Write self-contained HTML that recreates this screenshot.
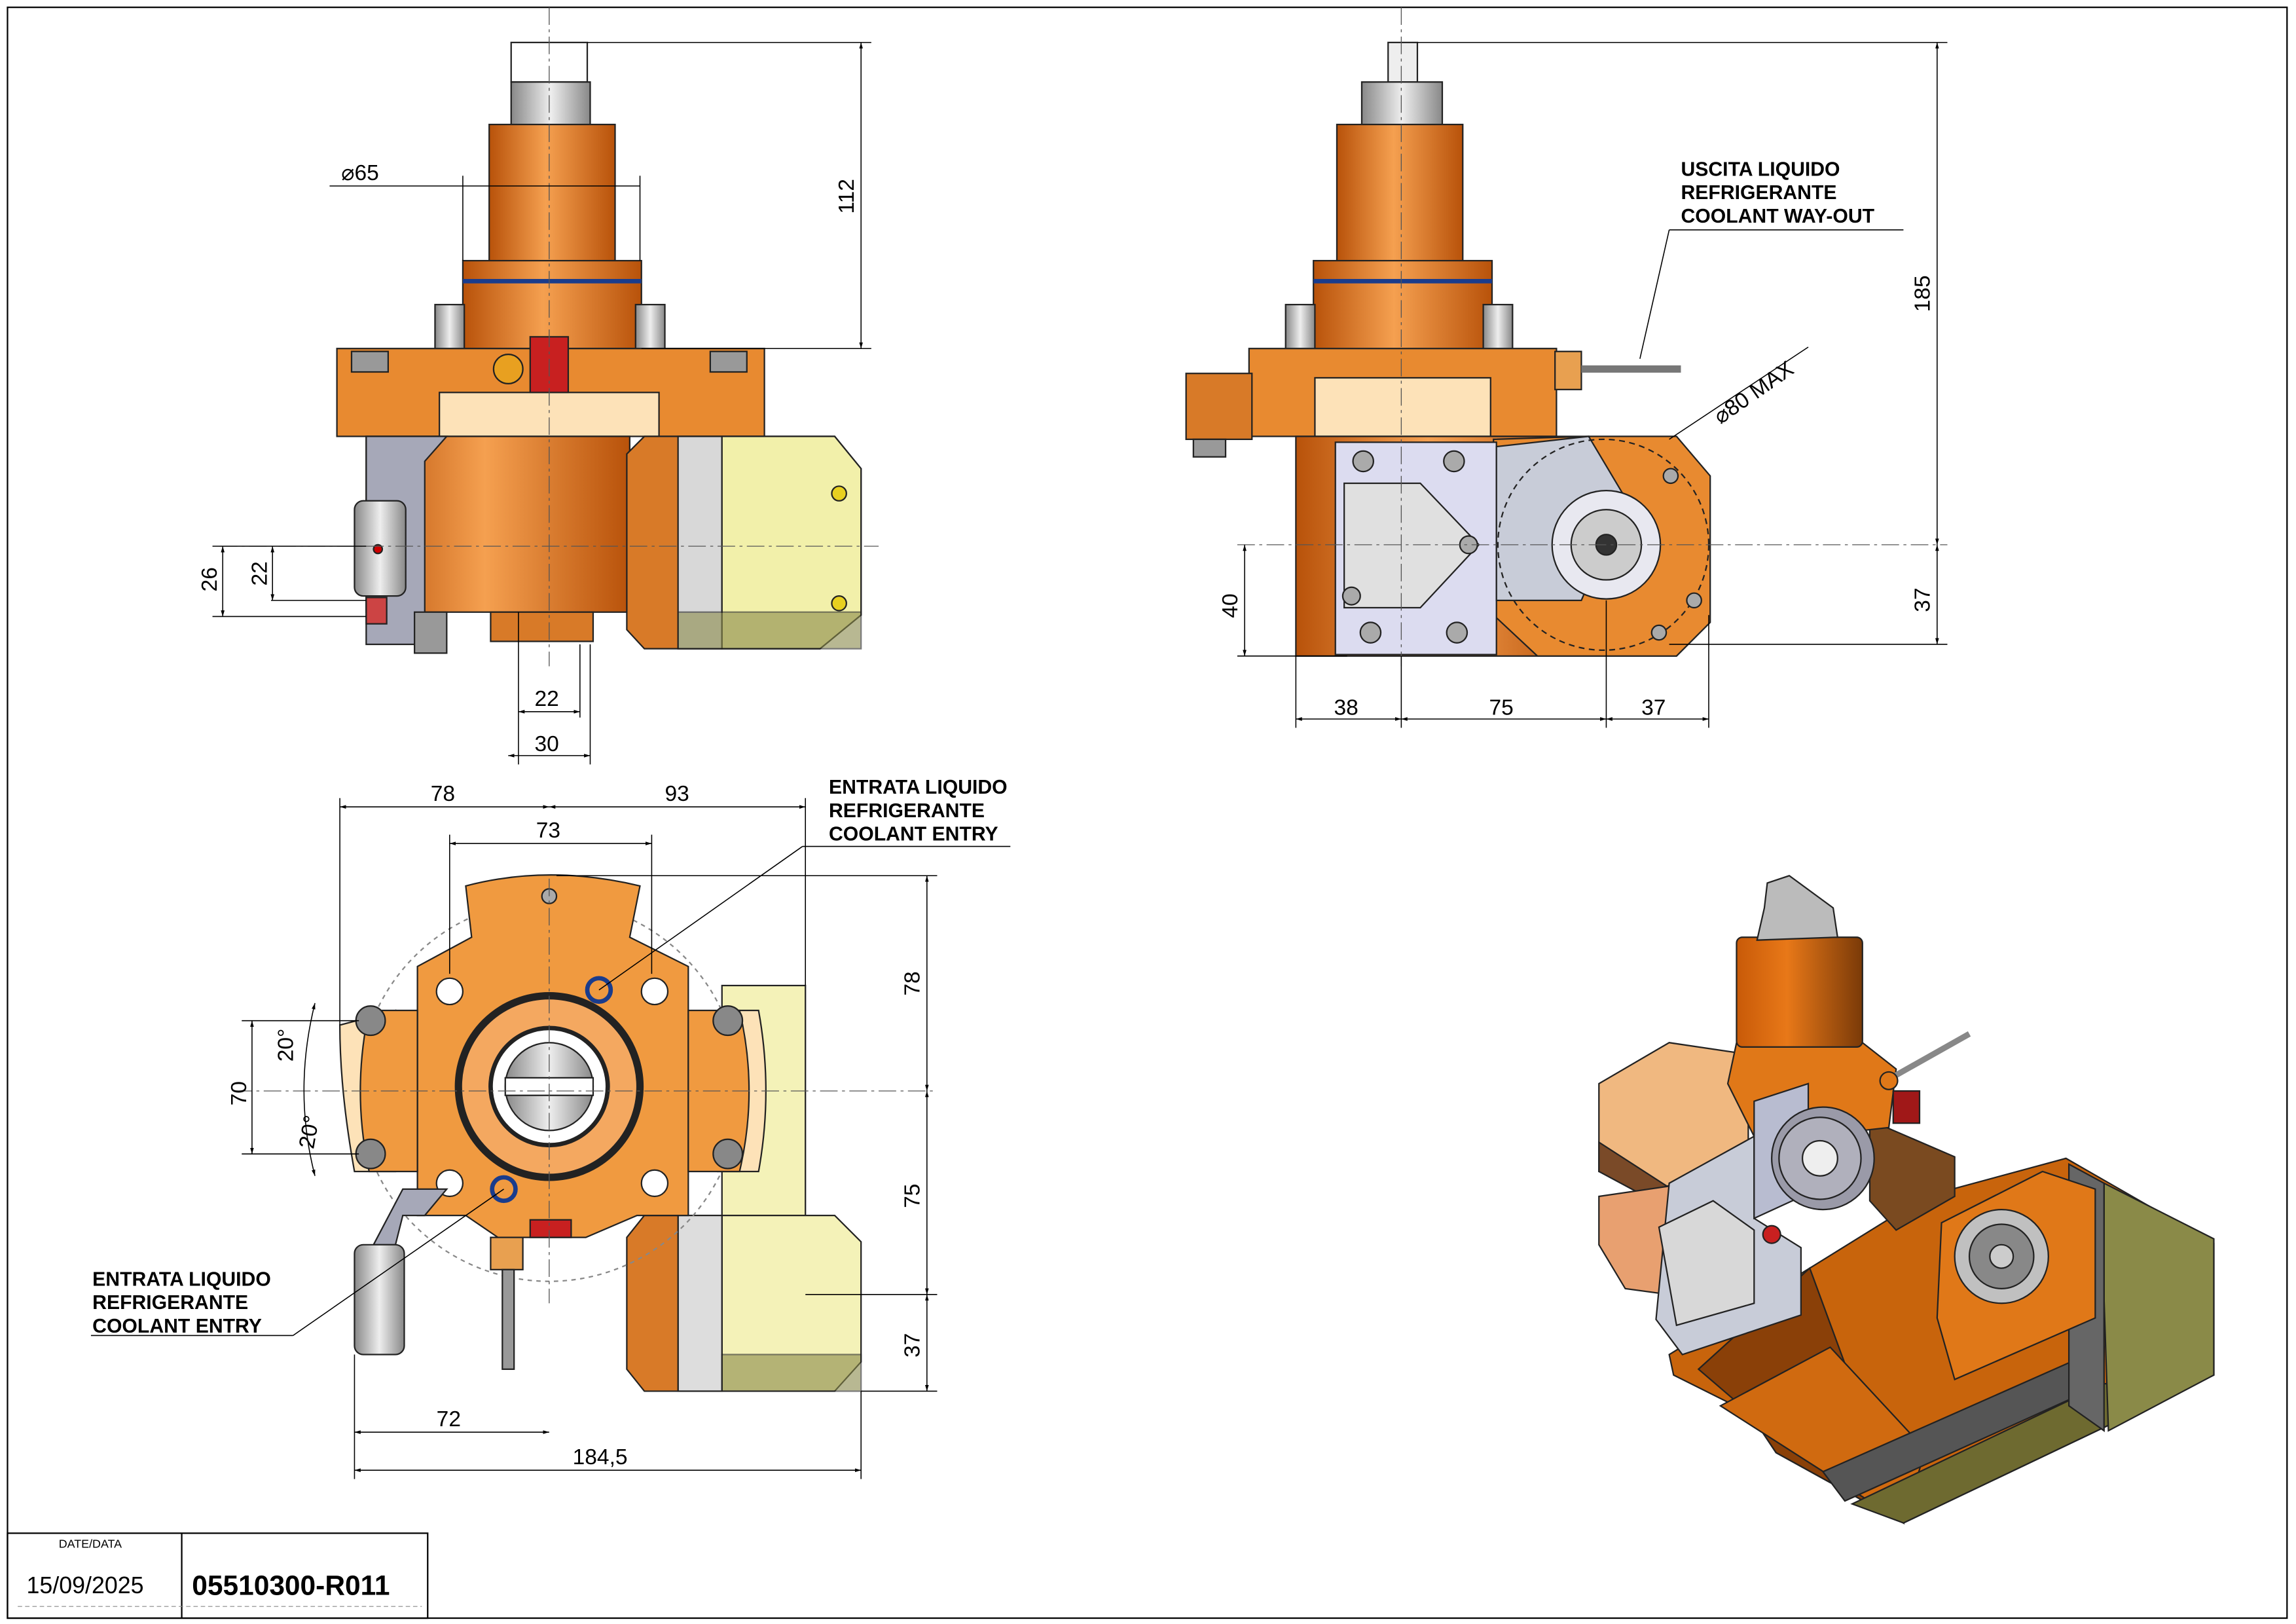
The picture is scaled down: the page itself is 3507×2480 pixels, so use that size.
<!DOCTYPE html>
<html><head><meta charset="utf-8"><style>
html,body{margin:0;padding:0;background:#fff}
svg{display:block}
text{font-family:"Liberation Sans",sans-serif}
</style></head><body>
<svg width="3507" height="2480" viewBox="0 0 1568 1109" xmlns="http://www.w3.org/2000/svg">
<defs>
<linearGradient id="cyl" x1="0" x2="1"><stop offset="0" stop-color="#b8520a"/><stop offset=".45" stop-color="#f5a050"/><stop offset="1" stop-color="#b8520a"/></linearGradient>
<linearGradient id="cyl2" x1="0" x2="1"><stop offset="0" stop-color="#c85a08"/><stop offset=".4" stop-color="#e87818"/><stop offset="1" stop-color="#7a3a08"/></linearGradient>
<linearGradient id="gry" x1="0" x2="1"><stop offset="0" stop-color="#888"/><stop offset=".5" stop-color="#eee"/><stop offset="1" stop-color="#888"/></linearGradient>
<marker id="a" viewBox="0 0 10 10" refX="10" refY="5" markerWidth="6" markerHeight="6" orient="auto-start-reverse"><path d="M0,2L10,5L0,8z" fill="#000"/></marker>
</defs>
<rect x="0" y="0" width="1568" height="1109" fill="#fff"/>
<rect x="5" y="5" width="1557" height="1100" fill="none" stroke="#000" stroke-width="1"/>
<rect x="5" y="1047" width="287" height="58" fill="none" stroke="#000"/>
<line x1="124" y1="1047" x2="124" y2="1105" stroke="#000"/>
<text x="40" y="1057" font-size="8">DATE/DATA</text>
<text x="18" y="1088" font-size="16">15/09/2025</text>
<text x="131" y="1089" font-size="19" font-weight="bold">05510300-R011</text>
<line x1="12" y1="1097" x2="288" y2="1097" stroke="#888" stroke-dasharray="3,2" stroke-width=".5"/>

<g stroke="#222" stroke-width="1">
<!-- ===== VIEW 1 ===== -->
<rect x="349" y="29" width="52" height="27" fill="#fff"/>
<rect x="349" y="56" width="54" height="30" fill="url(#gry)"/>
<rect x="334" y="85" width="86" height="95" fill="url(#cyl)"/>
<rect x="316" y="178" width="122" height="60" fill="url(#cyl)"/>
<line x1="316" y1="192" x2="438" y2="192" stroke="#1a3c8c" stroke-width="3"/>
<rect x="297" y="208" width="20" height="55" fill="url(#gry)"/>
<rect x="434" y="208" width="20" height="55" fill="url(#gry)"/>
<rect x="230" y="238" width="292" height="60" fill="#e88a30"/>
<rect x="300" y="268" width="150" height="30" fill="#fde2b8"/>
<rect x="240" y="240" width="25" height="14" fill="#999"/>
<rect x="485" y="240" width="25" height="14" fill="#999"/>
<rect x="362" y="230" width="26" height="38" fill="#c82020"/>
<circle cx="347" cy="252" r="10" fill="#e8a020"/>
<rect x="250" y="298" width="180" height="120" fill="url(#cyl)"/>
<rect x="335" y="418" width="70" height="20" fill="#d87a28"/>
<polygon points="250,298 305,298 290,315 290,440 250,440" fill="#a6a8b8"/>
<rect x="283" y="418" width="22" height="28" fill="#999"/>
<rect x="242" y="342" width="35" height="65" rx="6" fill="url(#gry)"/>
<circle cx="258" cy="375" r="3" fill="#c00"/>
<rect x="250" y="408" width="14" height="18" fill="#c44"/>
<polygon points="440,298 570,298 588,320 588,420 560,443 440,443 428,430 428,310" fill="#d87a28"/>
<rect x="463" y="298" width="30" height="145" fill="#d8d8d8"/>
<polygon points="493,298 570,298 588,320 588,420 560,443 493,443" fill="#f2f0aa"/>
<rect x="463" y="418" width="125" height="25" fill="#8a8a4a" opacity=".6"/>
<circle cx="573" cy="337" r="5" fill="#e8d020"/><circle cx="573" cy="412" r="5" fill="#e8d020"/>

<!-- ===== VIEW 2 ===== -->
<rect x="948" y="29" width="20" height="27" fill="#eee"/>
<rect x="930" y="56" width="55" height="30" fill="url(#gry)"/>
<rect x="913" y="85" width="86" height="95" fill="url(#cyl)"/>
<rect x="897" y="178" width="122" height="62" fill="url(#cyl)"/>
<line x1="897" y1="192" x2="1019" y2="192" stroke="#1a3c8c" stroke-width="3"/>
<rect x="878" y="208" width="20" height="55" fill="url(#gry)"/>
<rect x="1013" y="208" width="20" height="55" fill="url(#gry)"/>
<rect x="853" y="238" width="210" height="60" fill="#e88a30"/>
<rect x="898" y="258" width="120" height="40" fill="#fde2b8"/>
<rect x="810" y="255" width="45" height="45" fill="#d87a28"/>
<rect x="815" y="300" width="22" height="12" fill="#999"/>
<rect x="1062" y="240" width="18" height="26" fill="#e8a050"/>
<line x1="1080" y1="252" x2="1148" y2="252" stroke="#777" stroke-width="5"/>
<rect x="885" y="298" width="200" height="150" fill="url(#cyl)"/>
<polygon points="1085,298 1145,298 1168,325 1168,425 1145,448 1050,448 1020,420 1020,300" fill="#e88a30"/>
<rect x="912" y="302" width="110" height="145" fill="#dcdcf0"/>
<polygon points="918,330 970,330 1010,372 970,415 918,415" fill="#e0e0e0"/>
<polygon points="1022,305 1085,298 1110,340 1080,410 1022,410" fill="#c8ccd8"/>
<circle cx="1095" cy="372" r="72" fill="none" stroke-dasharray="4,3"/>
<circle cx="1097" cy="372" r="37" fill="#e8e8f0"/>
<circle cx="1097" cy="372" r="24" fill="#ccc"/>
<circle cx="1097" cy="372" r="7" fill="#333"/>
<g fill="#aaa"><circle cx="931" cy="315" r="7"/><circle cx="993" cy="315" r="7"/><circle cx="923" cy="407" r="6"/><circle cx="1003" cy="372" r="6"/><circle cx="936" cy="432" r="7"/><circle cx="995" cy="432" r="7"/><circle cx="1141" cy="325" r="5"/><circle cx="1157" cy="410" r="5"/><circle cx="1133" cy="432" r="5"/></g>

<!-- ===== VIEW 3 ===== -->
<rect x="493" y="673" width="57" height="157" fill="#f4f2b8"/>
<polygon points="493,830 570,830 588,848 588,930 570,950 493,950" fill="#f4f2b8"/>
<rect x="463" y="830" width="30" height="120" fill="#ddd"/>
<polygon points="440,830 463,830 463,950 440,950 428,935 428,845" fill="#d87a28"/>
<rect x="493" y="925" width="95" height="25" fill="#8a8a4a" opacity=".6"/>
<circle cx="375" cy="745" r="130" fill="none" stroke-dasharray="3,3" stroke="#888"/>
<path d="M232,700 Q232,745 242,800 L270,800 L270,690 Z" fill="#fde2b8"/>
<path d="M518,690 Q528,745 518,800 L490,800 L490,690 Z" fill="#fde2b8"/>
<path d="M318,605 Q375,590 437,605 L430,640 L470,660 L470,830 L435,830 L400,845 L340,845 L318,830 L285,830 L285,660 L322,640 Z" fill="#f09a40"/>
<path d="M252,690 L285,690 L285,800 L252,800 Q240,745 252,690Z" fill="#f09a40"/>
<path d="M470,690 L505,690 Q518,745 505,800 L470,800Z" fill="#f09a40"/>
<circle cx="375" cy="742" r="62" fill="#f4a860" stroke-width="5"/>
<circle cx="375" cy="742" r="40" fill="#fff" stroke-width="3"/>
<circle cx="375" cy="742" r="30" fill="url(#gry)"/>
<rect x="345" y="736" width="60" height="12" fill="#fff"/>
<g fill="#fff"><circle cx="307" cy="677" r="9"/><circle cx="447" cy="677" r="9"/><circle cx="307" cy="808" r="9"/><circle cx="447" cy="808" r="9"/></g>
<g fill="#888"><circle cx="253" cy="697" r="10"/><circle cx="497" cy="697" r="10"/><circle cx="253" cy="788" r="10"/><circle cx="497" cy="788" r="10"/></g>
<circle cx="375" cy="612" r="5" fill="#aaa"/>
<circle cx="409" cy="676" r="8" fill="none" stroke="#1a3c8c" stroke-width="3"/>
<circle cx="344" cy="812" r="8" fill="none" stroke="#1a3c8c" stroke-width="3"/>
<rect x="362" y="833" width="28" height="12" fill="#c82020"/>
<polygon points="275,812 305,812 290,830 275,830 270,850 255,850" fill="#a6a8b8"/>
<rect x="242" y="850" width="34" height="75" rx="6" fill="url(#gry)"/>
<rect x="335" y="845" width="22" height="22" fill="#e8a050"/>
<rect x="343" y="867" width="8" height="68" fill="#999"/>

<!-- ===== ISO ===== -->
<polygon points="1140,925 1236,866 1315,817 1411,791 1512,849 1512,939 1300,1040 1213,992 1195,965 1143,939" fill="#c8640c"/>
<polygon points="1236,866 1300,1040 1213,992 1195,965 1160,935" fill="#8a4008"/>
<polygon points="1175,960 1250,920 1315,990 1300,1040" fill="#d06a10"/>
<polygon points="1245,1005 1437,920 1437,945 1260,1025" fill="#555"/>
<polygon points="1265,1027 1437,945 1512,939 1300,1040" fill="#6e6a30"/>
<polygon points="1437,808 1512,846 1512,939 1440,977 1437,887" fill="#8a8a48"/>
<polygon points="1413,795 1437,808 1437,977 1413,960" fill="#666"/>
<polygon points="1326,835 1395,800 1431,812 1431,900 1335,942 1323,900" fill="#e07818"/>
<circle cx="1367" cy="858" r="32" fill="#c0c0c0"/>
<circle cx="1367" cy="858" r="22" fill="#888"/>
<circle cx="1367" cy="858" r="8" fill="#ccc"/>
<polygon points="1277,765 1335,790 1335,817 1295,840 1277,820" fill="#7a4a20"/>
<polygon points="1092,740 1140,712 1194,720 1194,780 1140,811 1092,800" fill="#f0b880"/>
<polygon points="1092,780 1140,811 1194,780 1194,795 1120,815 1092,800" fill="#7a4a28"/>
<polygon points="1092,817 1140,810 1140,884 1110,880 1092,850" fill="#e8a070"/>
<polygon points="1186,712 1272,712 1295,730 1290,770 1200,780 1180,740" fill="#e07818"/>
<rect x="1186" y="640" width="86" height="75" rx="4" fill="url(#cyl2)"/>
<polygon points="1207,603 1222,598 1252,620 1255,640 1200,642 1205,620" fill="#bbb"/>
<line x1="1290" y1="737" x2="1345" y2="706" stroke="#888" stroke-width="4"/>
<circle cx="1290" cy="738" r="6" fill="#e07818"/>
<rect x="1293" y="745" width="18" height="22" fill="#a01818"/>
<polygon points="1140,808 1198,776 1198,832 1230,852 1230,898 1149,925 1131,901" fill="#c8ccd8"/>
<polygon points="1133,838 1170,820 1198,840 1198,890 1145,905" fill="#d8d8d8"/>
<polygon points="1198,752 1235,740 1235,815 1198,832" fill="#b8bcd0"/>
<circle cx="1245" cy="791" r="35" fill="#9a9aa8"/>
<circle cx="1243" cy="791" r="28" fill="#b0b0bc"/>
<circle cx="1243" cy="791" r="12" fill="#eee"/>
<circle cx="1210" cy="843" r="6" fill="#c82020"/>
</g>

<!-- centre lines -->
<g stroke="#555" stroke-width=".6" stroke-dasharray="12,3,2,3" fill="none">
<line x1="375" y1="5" x2="375" y2="455"/><line x1="150" y1="373" x2="600" y2="373"/>
<line x1="957" y1="5" x2="957" y2="455"/><line x1="845" y1="372" x2="1330" y2="372"/>
<line x1="375" y1="600" x2="375" y2="890"/><line x1="160" y1="745" x2="640" y2="745"/>
</g>

<g stroke="#000" stroke-width=".7" fill="none">
<line x1="401" y1="29" x2="595" y2="29"/><line x1="438" y1="238" x2="595" y2="238"/>
<line x1="588" y1="29" x2="588" y2="238" marker-start="url(#a)" marker-end="url(#a)"/>
<line x1="225" y1="127" x2="437" y2="127"/><line x1="316" y1="120" x2="316" y2="178"/><line x1="437" y1="120" x2="437" y2="178"/>
<line x1="145" y1="373" x2="250" y2="373"/><line x1="145" y1="421" x2="250" y2="421"/><line x1="185" y1="410" x2="250" y2="410"/>
<line x1="152" y1="373" x2="152" y2="421" marker-start="url(#a)" marker-end="url(#a)"/>
<line x1="186" y1="373" x2="186" y2="410" marker-start="url(#a)" marker-end="url(#a)"/>
<line x1="354" y1="418" x2="354" y2="522"/><line x1="396" y1="440" x2="396" y2="490"/><line x1="403" y1="440" x2="403" y2="522"/>
<line x1="354" y1="486" x2="396" y2="486" marker-start="url(#a)" marker-end="url(#a)"/>
<line x1="347" y1="516" x2="403" y2="516" marker-start="url(#a)" marker-end="url(#a)"/>
<line x1="968" y1="29" x2="1330" y2="29"/>
<line x1="1323" y1="29" x2="1323" y2="372" marker-start="url(#a)" marker-end="url(#a)"/>
<line x1="1323" y1="372" x2="1323" y2="440" marker-start="url(#a)" marker-end="url(#a)"/><line x1="1140" y1="440" x2="1330" y2="440"/>
<line x1="845" y1="448" x2="920" y2="448"/>
<line x1="850" y1="372" x2="850" y2="448" marker-start="url(#a)" marker-end="url(#a)"/>
<line x1="885" y1="448" x2="885" y2="497"/><line x1="957" y1="448" x2="957" y2="497"/><line x1="1097" y1="410" x2="1097" y2="497"/><line x1="1167" y1="420" x2="1167" y2="497"/>
<line x1="885" y1="491" x2="957" y2="491" marker-start="url(#a)" marker-end="url(#a)"/>
<line x1="957" y1="491" x2="1097" y2="491" marker-start="url(#a)" marker-end="url(#a)"/>
<line x1="1097" y1="491" x2="1167" y2="491" marker-start="url(#a)" marker-end="url(#a)"/>
<line x1="1140" y1="300" x2="1235" y2="237"/>
<line x1="1120" y1="245" x2="1140" y2="157"/><line x1="1140" y1="157" x2="1300" y2="157"/>
<line x1="232" y1="545" x2="232" y2="700"/><line x1="550" y1="545" x2="550" y2="673"/>
<line x1="232" y1="551" x2="375" y2="551" marker-start="url(#a)" marker-end="url(#a)"/>
<line x1="375" y1="551" x2="550" y2="551" marker-start="url(#a)" marker-end="url(#a)"/>
<line x1="307" y1="570" x2="307" y2="665"/><line x1="445" y1="570" x2="445" y2="665"/>
<line x1="307" y1="576" x2="445" y2="576" marker-start="url(#a)" marker-end="url(#a)"/>
<line x1="380" y1="598" x2="640" y2="598"/><line x1="550" y1="884" x2="640" y2="884"/><line x1="588" y1="950" x2="640" y2="950"/>
<line x1="633" y1="598" x2="633" y2="745" marker-start="url(#a)" marker-end="url(#a)"/>
<line x1="633" y1="745" x2="633" y2="884" marker-start="url(#a)" marker-end="url(#a)"/>
<line x1="633" y1="884" x2="633" y2="950" marker-start="url(#a)" marker-end="url(#a)"/>
<line x1="165" y1="697" x2="245" y2="697"/><line x1="165" y1="788" x2="245" y2="788"/>
<line x1="172" y1="697" x2="172" y2="788" marker-start="url(#a)" marker-end="url(#a)"/>
<path d="M215,685 Q200,745 215,803" marker-start="url(#a)" marker-end="url(#a)"/>
<line x1="242" y1="925" x2="242" y2="1010"/><line x1="588" y1="950" x2="588" y2="1010"/>
<line x1="242" y1="978" x2="375" y2="978" marker-start="url(#a)" marker-end="url(#a)"/>
<line x1="242" y1="1004" x2="588" y2="1004" marker-start="url(#a)" marker-end="url(#a)"/>
<line x1="409" y1="676" x2="548" y2="578"/><line x1="548" y1="578" x2="690" y2="578"/>
<line x1="344" y1="812" x2="200" y2="912"/><line x1="62" y1="912" x2="200" y2="912"/>
</g>

<g font-size="15" fill="#000">
<text x="233" y="123">⌀65</text>
<text x="583" y="146" transform="rotate(-90 583 146)">112</text>
<text x="148" y="404" transform="rotate(-90 148 404)">26</text>
<text x="182" y="400" transform="rotate(-90 182 400)">22</text>
<text x="365" y="482">22</text><text x="365" y="513">30</text>
<text x="1318" y="213" transform="rotate(-90 1318 213)">185</text>
<text x="1318" y="418" transform="rotate(-90 1318 418)">37</text>
<text x="845" y="422" transform="rotate(-90 845 422)">40</text>
<text x="911" y="488">38</text><text x="1017" y="488">75</text><text x="1121" y="488">37</text>
<text x="1175" y="290" transform="rotate(-35 1175 290)">⌀80 MAX</text>
<text x="294" y="547">78</text><text x="454" y="547">93</text><text x="366" y="572">73</text>
<text x="628" y="680" transform="rotate(-90 628 680)">78</text>
<text x="628" y="825" transform="rotate(-90 628 825)">75</text>
<text x="628" y="927" transform="rotate(-90 628 927)">37</text>
<text x="168" y="755" transform="rotate(-90 168 755)">70</text>
<text x="200" y="725" transform="rotate(-90 200 725)">20°</text>
<text x="214" y="785" transform="rotate(-80 214 785)">20°</text>
<text x="298" y="974">72</text><text x="391" y="1000">184,5</text>
</g>
<g font-size="13.5" font-weight="bold" fill="#000">
<text x="1148" y="120">USCITA LIQUIDO</text><text x="1148" y="136">REFRIGERANTE</text><text x="1148" y="152">COOLANT WAY-OUT</text>
<text x="566" y="542">ENTRATA LIQUIDO</text><text x="566" y="558">REFRIGERANTE</text><text x="566" y="574">COOLANT ENTRY</text>
<text x="63" y="878">ENTRATA LIQUIDO</text><text x="63" y="894">REFRIGERANTE</text><text x="63" y="910">COOLANT ENTRY</text>
</g>
</svg>
</body></html>
